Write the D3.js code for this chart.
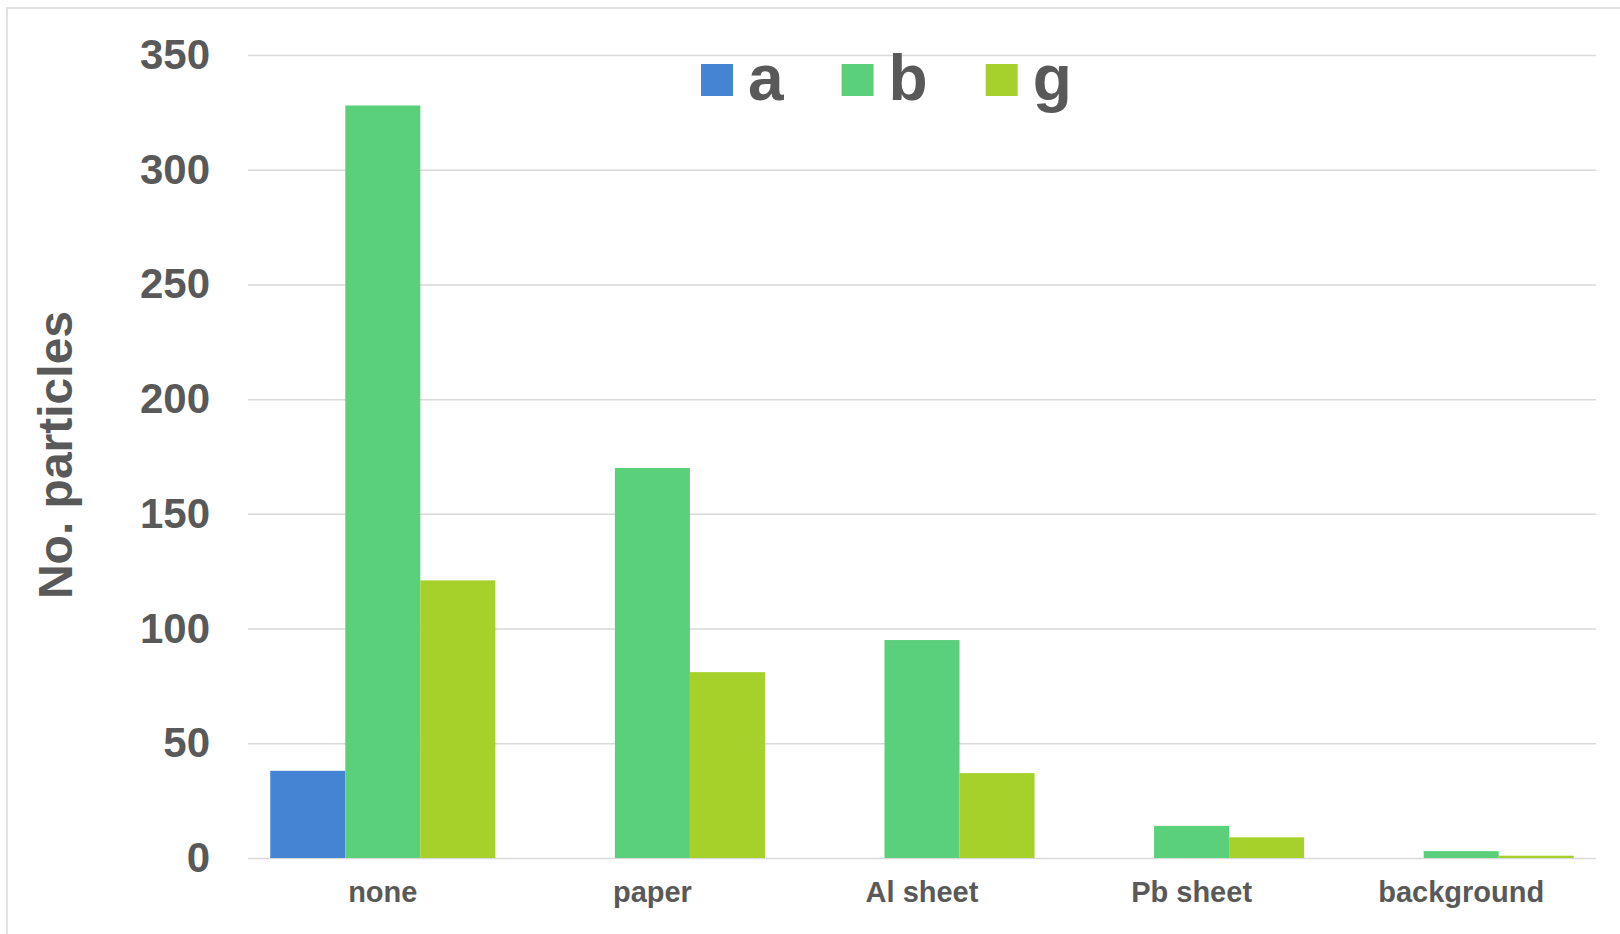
<!DOCTYPE html>
<html>
<head>
<meta charset="utf-8">
<script src="https://cdn.jsdelivr.net/npm/d3@7/dist/d3.min.js"></script>
<style>
  html, body { margin: 0; padding: 0; background: #fff; }
  svg { display: block; }
  text { font-family: "Liberation Sans", Arial, sans-serif; font-weight: bold; fill: #595959; }
</style>
</head>
<body>
<svg id="chart" width="1620" height="934"></svg>
<script>
const categories = ["none", "paper", "Al sheet", "Pb sheet", "background"];
const seriesNames = ["a", "b", "g"];
const seriesA = [38, 0, 0, 0, 0];
const seriesB = [328, 170, 95, 14, 3];
const seriesG = [121, 81, 37, 9, 1];
const yTicks = [0, 50, 100, 150, 200, 250, 300, 350];
const colors = ["#4584d3", "#5bd07a", "#a5d12a"];
const yTitle = "No. particles";

const seriesValues = [seriesA, seriesB, seriesG];

(function () {
const svg = d3.select("#chart");
const mLeft = 248, mRight = 1596, mTop = 55, mBottom = 858;

svg.append("rect").attr("x", 7).attr("y", 8).attr("width", 1700).attr("height", 1000)
  .attr("fill", "#fff").attr("stroke", "#d9d9d9").attr("stroke-width", 1.5);

const x0 = d3.scaleBand().domain(categories).range([mLeft, mRight])
  .paddingInner(0.165).paddingOuter(0.0825);
const x1 = d3.scaleBand().domain(seriesNames).range([0, x0.bandwidth()]).padding(0);
const y = d3.scaleLinear().domain([0, 350]).range([mBottom, mTop]);

// gridlines + y tick labels
const yAxis = d3.axisLeft(y).tickValues(yTicks).tickSize(-(mRight - mLeft)).tickPadding(38).tickFormat(d3.format("d"));
const gAxis = svg.append("g").attr("transform", `translate(${mLeft},0)`).call(yAxis);
gAxis.select(".domain").remove();
gAxis.selectAll(".tick line").attr("stroke", "#d9d9d9").attr("stroke-width", 1.5);
gAxis.selectAll(".tick text")
  .style("font-size", "42px").style("font-family", '"Liberation Sans", Arial, sans-serif')
  .style("font-weight", "bold").attr("fill", "#595959");

// bars
const groups = svg.append("g").selectAll("g").data(categories).join("g")
  .attr("transform", d => `translate(${x0(d)},0)`);
groups.selectAll("rect")
  .data((c, ci) => seriesNames.map((s, si) => ({ s, si, v: seriesValues[si][ci] })).filter(d => d.v > 0))
  .join("rect")
  .attr("x", d => x1(d.s))
  .attr("width", x1.bandwidth())
  .attr("y", d => y(d.v))
  .attr("height", d => y(0) - y(d.v))
  .attr("fill", d => colors[d.si]);

// x axis labels
const xAxis = d3.axisBottom(x0).tickSize(0).tickPadding(23);
const gx = svg.append("g").attr("transform", `translate(0,${mBottom})`).call(xAxis);
gx.select(".domain").remove();
gx.selectAll(".tick text")
  .style("font-size", "29px").style("font-family", '"Liberation Sans", Arial, sans-serif')
  .style("font-weight", "bold").attr("fill", "#595959");

// y title
svg.append("text")
  .attr("transform", `translate(72,455) rotate(-90)`)
  .attr("text-anchor", "middle")
  .style("font-size", "48px")
  .text(yTitle);

// legend
const legend = svg.append("g");
let lx = 701;
seriesNames.forEach((s, i) => {
  legend.append("rect").attr("x", lx).attr("y", 64).attr("width", 32).attr("height", 32).attr("fill", colors[i]);
  const t = legend.append("text").attr("x", lx + 47).attr("y", 100).style("font-size", "64px").text(s);
  const w = t.node().getComputedTextLength();
  lx = lx + 47 + w + 58;
});
})();
</script>
</body>
</html>
